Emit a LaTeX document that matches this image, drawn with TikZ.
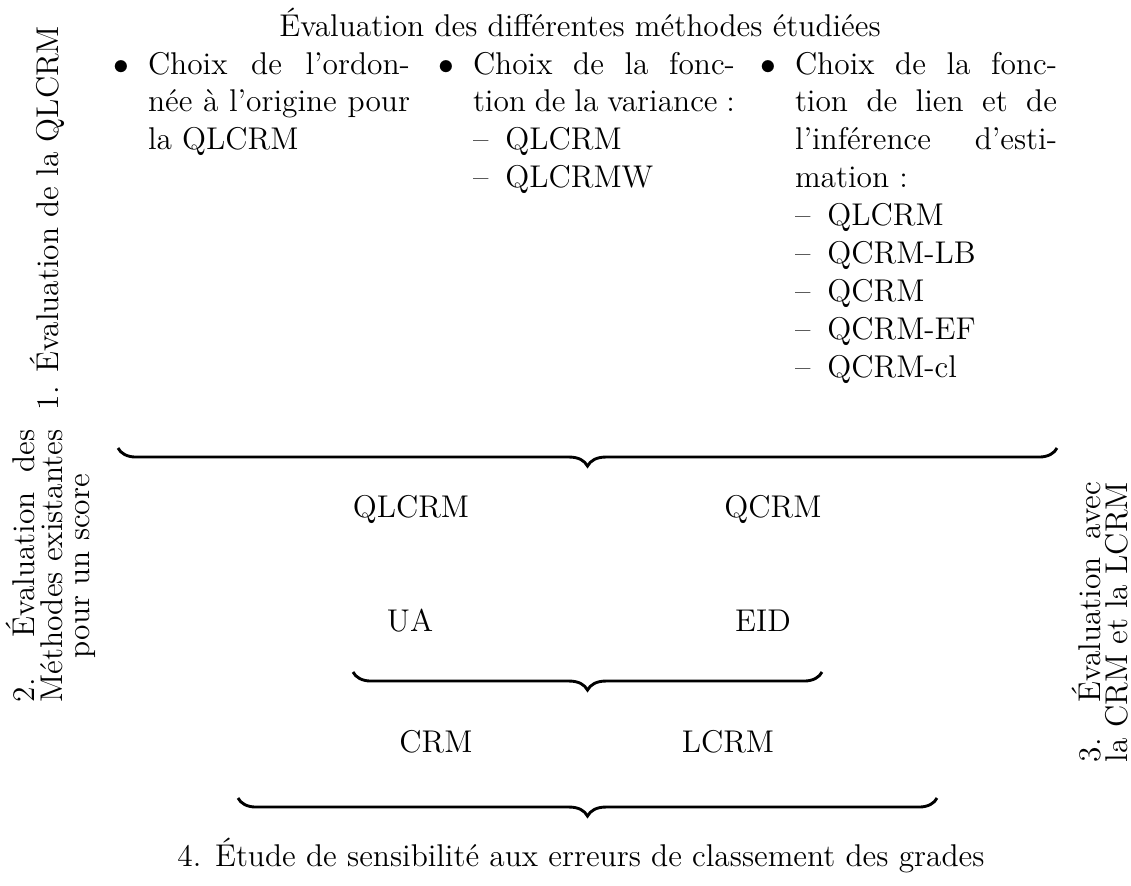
\documentclass[tikz,border=0pt]{standalone}
\usetikzlibrary{decorations.pathreplacing}
\newlength{\colw}\setlength{\colw}{100pt}
\newlength{\sidew}
\newcommand{\jline}[1]{\makebox[\colw][s]{#1}}
\newcommand{\bul}{\leavevmode\llap{$\bullet$\hspace{7pt}}}
\newcommand{\subit}[1]{\textendash\hspace{6.5pt}#1}
\newcommand{\sidelines}[3]{\settowidth{\sidew}{#2}\makebox[\sidew][s]{#1}\\#2\\#3}
\newcommand{\sidetwo}[2]{\settowidth{\sidew}{#2}\makebox[\sidew][s]{#1}\\#2}
\begin{document}
\begin{tikzpicture}[x=0.38168pt,y=-0.38168pt,
  every node/.style={inner sep=0pt, outer sep=0pt, font=\fontsize{12}{14.5}\selectfont},
  txt/.style={anchor=base},
  col/.style={anchor=base west},
  side/.style={rotate=90, align=center, font=\fontsize{12}{10.4}\selectfont},
  bracepath/.style={decorate, decoration={brace, mirror, amplitude=6.9pt}, line width=1.1pt}]
\useasboundingbox (0,0) rectangle (1131,885);
% title
\node[txt] (title) at (580,36) {Évaluation des différentes méthodes étudiées};
% columns
\node[col] (c1) at (148,74) {\parbox[t]{\colw}{\bul\jline{Choix de l'ordon-}\\
  \jline{née à l'origine pour}\\
  la QLCRM}};
\node[col] (c2) at (473,74) {\parbox[t]{\colw}{\bul\jline{Choix de la fonc-}\\
  \jline{tion de la variance :}\\
  \subit{QLCRM}\\
  \subit{QLCRMW}}};
\node[col] (c3) at (795,74) {\parbox[t]{\colw}{\bul\jline{Choix de la fonc-}\\
  \jline{tion de lien et de}\\
  \jline{l'inférence d'esti-}\\
  mation :\\
  \subit{QLCRM}\\
  \subit{QCRM-LB}\\
  \subit{QCRM}\\
  \subit{QCRM-EF}\\
  \subit{QCRM-cl}}};
% side labels
\node[side] (l1) at (47,218) {1. Évaluation de la QLCRM};
\node[side] (l2) at (51,566) {\sidelines{2. Évaluation des}{Méthodes existantes}{pour un score}};
\node[side] (l3) at (1100,622) {\sidetwo{3. Évaluation avec}{la CRM et la LCRM}};
% braces
\coordinate (b1l) at (118,448); \coordinate (b1r) at (1057,448);
\draw[bracepath] (b1l) -- (b1r);
\node[txt] (qlcrm) at (411,517) {QLCRM};
\node[txt] (qcrm) at (773,517) {QCRM};
\node[txt] (ua) at (410,631) {UA};
\node[txt] (eid) at (763,631) {EID};
\coordinate (b2l) at (353,672); \coordinate (b2r) at (822,672);
\draw[bracepath] (b2l) -- (b2r);
\node[txt] (crm) at (436,752) {CRM};
\node[txt] (lcrm) at (728,752) {LCRM};
\coordinate (b3l) at (238,798); \coordinate (b3r) at (937,798);
\draw[bracepath] (b3l) -- (b3r);
\node[txt] (bottom) at (581,866) {4. Étude de sensibilité aux erreurs de classement des grades};
\end{tikzpicture}
\end{document}
